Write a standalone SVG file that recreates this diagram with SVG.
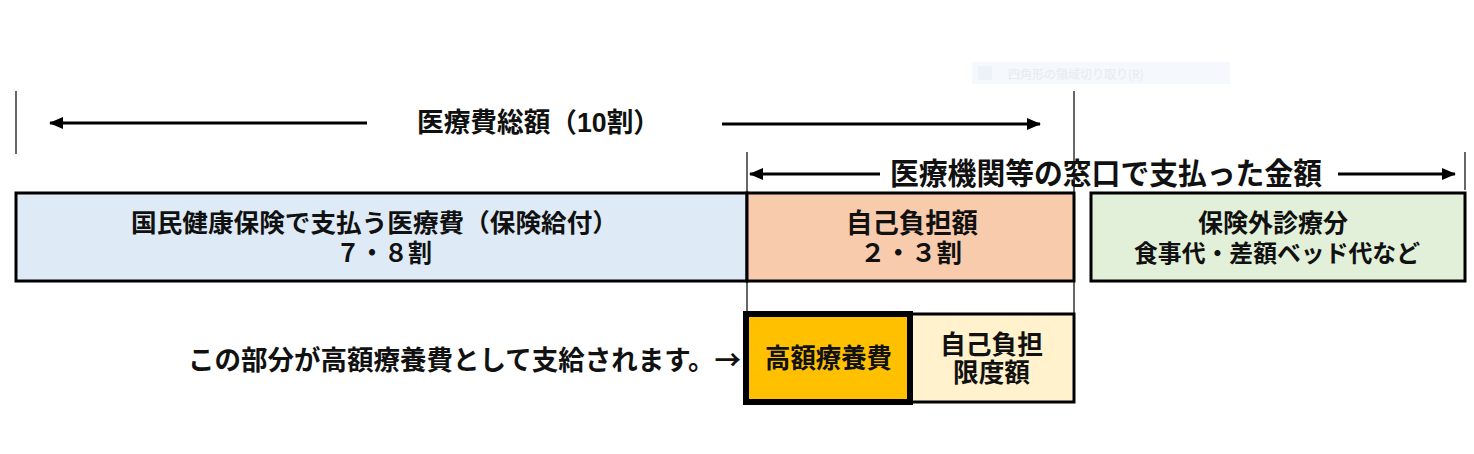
<svg xmlns="http://www.w3.org/2000/svg" width="1474" height="454" viewBox="0 0 1474 454">
<defs>
<marker id="ah" markerWidth="14" markerHeight="12" refX="13" refY="6" orient="auto-start-reverse" markerUnits="userSpaceOnUse">
<path d="M0,0 L14,6 L0,12 Z" fill="#000"/>
</marker>
</defs>
<style>
text{font-family:"Liberation Sans","Noto Sans CJK JP",sans-serif;font-weight:bold;fill:#111;dominant-baseline:central}
.cjk{font-family:"Noto Sans CJK JP",sans-serif}
.box{stroke:#000;stroke-width:3}
.thin{stroke:#000;stroke-width:1.2;fill:none}
.arr{stroke:#000;stroke-width:3;fill:none}
</style>
<rect width="1474" height="454" fill="#fff"/>
<g id="watermark">
<rect x="972" y="62" width="258" height="22" fill="#f5f8fc"/>
<rect x="978" y="66" width="14" height="14" fill="#edf2f9"/>
<text x="1008" y="73" style="font-family:'Noto Sans CJK JP',sans-serif;font-size:12px;font-weight:normal;fill:#e6ebf2">四角形の領域切り取り(R)</text>
</g>
<g id="connectors">
<line class="thin" x1="16" y1="91" x2="16" y2="154"/>
<line class="thin" x1="1074" y1="91" x2="1074" y2="193"/>
<line class="thin" x1="747" y1="152" x2="747" y2="193"/>
<line class="thin" x1="747" y1="281" x2="747" y2="314"/>
<line class="thin" x1="1074" y1="281" x2="1074" y2="314"/>
<line class="thin" x1="1465" y1="152" x2="1465" y2="190"/>
<line class="arr" x1="367" y1="123" x2="50" y2="123" marker-end="url(#ah)"/>
<line class="arr" x1="722" y1="124" x2="1040" y2="124" marker-end="url(#ah)"/>
<line class="arr" x1="880" y1="174" x2="750" y2="174" marker-end="url(#ah)"/>
<line class="arr" x1="1338" y1="174" x2="1455" y2="174" marker-end="url(#ah)"/>
</g>
<g id="label-total">
<text x="417" y="123" style="font-size:27px" textLength="243" lengthAdjust="spacingAndGlyphs">医療費総額（10割）</text>
</g>
<g id="label-window">
<text x="890" y="173" style="font-size:30px" textLength="432" lengthAdjust="spacingAndGlyphs">医療機関等の窓口で支払った金額</text>
</g>
<g id="node-insurance">
<rect class="box" x="16" y="193" width="731" height="88" fill="#deebf7"/>
<text x="131" y="223" style="font-size:25px" textLength="487" lengthAdjust="spacingAndGlyphs">国民健康保険で支払う医療費（保険給付）</text>
<text x="336" y="253" style="font-size:25px" textLength="96" lengthAdjust="spacingAndGlyphs">７・８割</text>
</g>
<g id="node-self">
<rect class="box" x="747" y="193" width="327" height="88" fill="#f8cbad"/>
<text x="846" y="224" style="font-size:27px" textLength="132" lengthAdjust="spacingAndGlyphs">自己負担額</text>
<text x="860" y="253" style="font-size:25px" textLength="102" lengthAdjust="spacingAndGlyphs">２・３割</text>
</g>
<g id="node-outside">
<rect class="box" x="1091" y="193" width="374" height="88" fill="#e2f0d9"/>
<text x="1198" y="223" style="font-size:25px" textLength="150" lengthAdjust="spacingAndGlyphs">保険外診療分</text>
<text x="1134" y="253" style="font-size:24px" textLength="286" lengthAdjust="spacingAndGlyphs">食事代・差額ベッド代など</text>
</g>
<g id="label-note">
<text class="cjk" x="188" y="358" style="font-size:27px" textLength="553" lengthAdjust="spacingAndGlyphs">この部分が高額療養費として支給されます。→</text>
</g>
<g id="node-limit">
<rect class="box" x="911" y="314" width="163" height="88" fill="#fff2cc"/>
<text x="940" y="345" style="font-size:26px" textLength="103" lengthAdjust="spacingAndGlyphs">自己負担</text>
<text x="953" y="373" style="font-size:26px" textLength="77" lengthAdjust="spacingAndGlyphs">限度額</text>
</g>
<g id="node-kogaku">
<rect x="746" y="314" width="164" height="88" fill="#ffc000" stroke="#000" stroke-width="6"/>
<text x="765" y="359" style="font-size:27px" textLength="127" lengthAdjust="spacingAndGlyphs">高額療養費</text>
</g>
</svg>
